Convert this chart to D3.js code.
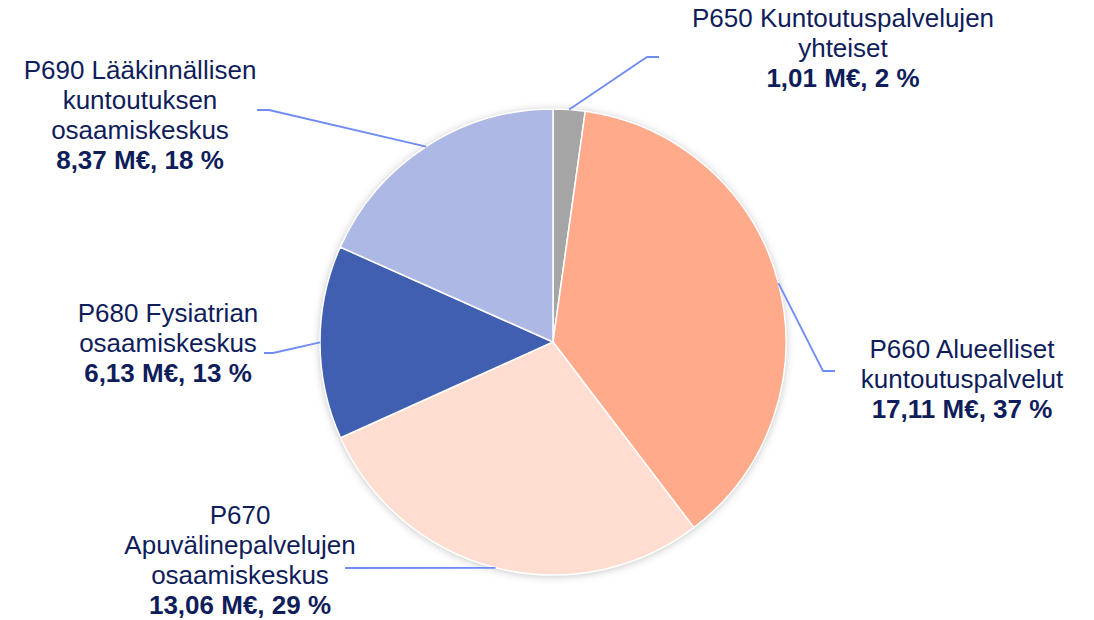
<!DOCTYPE html>
<html>
<head>
<meta charset="utf-8">
<script src="https://cdn.jsdelivr.net/npm/d3@7"></script>
<style>
  html,body{margin:0;padding:0;background:#fff;}
  svg text{font-family:"Liberation Sans",Arial,sans-serif;fill:#0f1d5b;}
</style>
</head>
<body>
<div id="chart"></div>
<script>
// data (M€), clockwise from 12 o'clock
var codes = ["P650","P660","P670","P680","P690"];
var names = [
  ["P650 Kuntoutuspalvelujen","yhteiset"],
  ["P660 Alueelliset","kuntoutuspalvelut"],
  ["P670","Apuvälinepalvelujen","osaamiskeskus"],
  ["P680 Fysiatrian","osaamiskeskus"],
  ["P690 Lääkinnällisen","kuntoutuksen","osaamiskeskus"]
];
var values = [1.01, 17.11, 13.06, 6.13, 8.37];
var colors = ["#a5a5a5","#ffaa8b","#ffddd1","#415fb0","#adb9e4"];

// label layout: text centre x, first baseline y, leader elbow + end
var labelPos = [
  {x:843, y:27,  elbow:[647,57],  end:[659,57]},
  {x:962, y:358, elbow:[823,371], end:[835,371]},
  {x:240, y:524, elbow:[345,568], end:[345,568]},
  {x:168, y:322, elbow:[273,353], end:[264,353]},
  {x:140, y:79,  elbow:[269,110], end:[257,110]}
];

var W = 1094, H = 620;
var cx = 553, cy = 342, R = 233;
var lineH = 30;

var svg = d3.select("#chart").append("svg")
  .attr("width", W).attr("height", H);

var defs = svg.append("defs");
var f = defs.append("filter").attr("id","shadow")
  .attr("x","-20%").attr("y","-20%").attr("width","140%").attr("height","140%");
f.append("feDropShadow").attr("dx",0).attr("dy",1).attr("stdDeviation",4)
  .attr("flood-color","#000").attr("flood-opacity",0.25);

var total = d3.sum(values);
var pie = d3.pie().sort(null).value(function(d){return d;});
var arcs = pie(values);
var arc = d3.arc().innerRadius(0).outerRadius(R);

var g = svg.append("g").attr("transform","translate("+cx+","+cy+")");

// shadow under the whole disc
g.append("circle").attr("r",R).attr("fill","#fff").attr("filter","url(#shadow)");

g.selectAll("path.slice")
  .data(arcs)
  .enter()
  .append("path")
  .attr("class","slice")
  .attr("d",arc)
  .attr("fill",function(d,i){return colors[i];})
  .attr("stroke","#fff")
  .attr("stroke-width",1.5);

// leader lines from slice mid-angle on the rim
svg.selectAll("polyline.leader")
  .data(arcs)
  .enter()
  .append("polyline")
  .attr("class","leader")
  .attr("points",function(d,i){
    var a = (d.startAngle+d.endAngle)/2;
    var p0 = [cx+R*Math.sin(a), cy-R*Math.cos(a)];
    var lp = labelPos[i];
    return [p0,lp.elbow,lp.end].map(function(p){return p.join(",");}).join(" ");
  })
  .attr("fill","none")
  .attr("stroke","#6f8cf2")
  .attr("stroke-width",1.8);

function fmt(v){ return v.toFixed(2).replace(".",","); }

var labels = svg.selectAll("text.lbl")
  .data(arcs)
  .enter()
  .append("text")
  .attr("class","lbl")
  .attr("text-anchor","middle")
  .style("font-size","26px");

labels.each(function(d,i){
  var t = d3.select(this);
  var lp = labelPos[i];
  names[i].forEach(function(s,k){
    t.append("tspan").attr("x",lp.x).attr("y",lp.y+k*lineH).text(s);
  });
  var pct = Math.round(values[i]/total*100);
  t.append("tspan").attr("x",lp.x).attr("y",lp.y+names[i].length*lineH)
    .style("font-weight","bold")
    .text(fmt(values[i])+" M€, "+pct+" %");
});
</script>
</body>
</html>
